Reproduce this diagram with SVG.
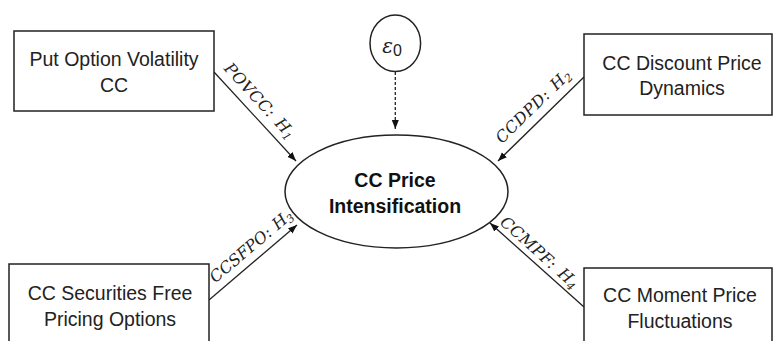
<svg xmlns="http://www.w3.org/2000/svg" width="773" height="341" viewBox="0 0 773 341">
<style>
.box{fill:#fff;stroke:#222;stroke-width:1.5}
.ell{fill:#fff;stroke:#222;stroke-width:1.5}
.t{font-family:"Liberation Sans",Arial,sans-serif;font-size:19.5px;fill:#222;text-anchor:middle}
.tb{font-family:"Liberation Sans",Arial,sans-serif;font-size:19.5px;font-weight:bold;fill:#111;text-anchor:middle}
.lab{font-family:"DejaVu Serif","Liberation Serif",serif;font-style:italic;font-size:16px;letter-spacing:0.4px;word-spacing:2px;fill:#222;text-anchor:middle}
.sub{font-size:11px}
.ln{stroke:#222;stroke-width:1.3;fill:none}
.dash{stroke:#222;stroke-width:1.3;fill:none;stroke-dasharray:3 2}
</style>
<defs>
<marker id="ah" markerUnits="userSpaceOnUse" markerWidth="10" markerHeight="8" refX="9" refY="3.5" orient="auto">
<path d="M0,0 L9,3.5 L0,7 z" fill="#111"/>
</marker>
</defs>
<rect width="773" height="341" fill="#fff"/>
<g id="connectors">
<line class="ln" x1="214" y1="72" x2="296" y2="161" marker-end="url(#ah)"/>
<line class="ln" x1="584" y1="77" x2="498" y2="161" marker-end="url(#ah)"/>
<line class="ln" x1="209" y1="300" x2="297" y2="225" marker-end="url(#ah)"/>
<line class="ln" x1="584" y1="307" x2="490" y2="223" marker-end="url(#ah)"/>
<line class="dash" x1="395.3" y1="72" x2="395.3" y2="129" marker-end="url(#ah)"/>
<text class="lab" transform="translate(256,104.5) rotate(47.3)">POVCC: H<tspan class="sub" dy="3">1</tspan></text>
<text class="lab" transform="translate(537,110) rotate(-44.3)">CCDPD: H<tspan class="sub" dy="3">2</tspan></text>
<text class="lab" transform="translate(254.5,250.2) rotate(-40.4)" style="letter-spacing:0;word-spacing:1px">CCSFPO: H<tspan class="sub" dy="3">3</tspan></text>
<text class="lab" transform="translate(536,256.5) rotate(41.8)">CCMPF: H<tspan class="sub" dy="3">4</tspan></text>
</g>
<g id="node-povcc">
<rect class="box" x="14" y="31" width="200" height="80"/>
<text class="t" x="114" y="66">Put Option Volatility</text>
<text class="t" x="114" y="92">CC</text>
</g>
<g id="node-ccdpd">
<rect class="box" x="584" y="34" width="188" height="81"/>
<text class="t" x="682" y="70">CC Discount Price</text>
<text class="t" x="682" y="95">Dynamics</text>
</g>
<g id="node-ccsfpo">
<rect class="box" x="9" y="264" width="200" height="90"/>
<text class="t" x="110" y="300">CC Securities Free</text>
<text class="t" x="110" y="326">Pricing Options</text>
</g>
<g id="node-ccmpf">
<rect class="box" x="584" y="268" width="188" height="90"/>
<text class="t" x="680" y="302">CC Moment Price</text>
<text class="t" x="680" y="328">Fluctuations</text>
</g>
<g id="node-epsilon">
<ellipse class="ell" cx="395.3" cy="43.3" rx="25.3" ry="28.3"/>
<text x="392" y="53" font-family="'DejaVu Serif','Liberation Serif',serif" font-style="italic" font-size="20" fill="#222" text-anchor="middle">ε<tspan font-style="normal" font-family="'Liberation Sans',sans-serif" font-size="16" dy="3">0</tspan></text>
</g>
<g id="node-target">
<ellipse class="ell" cx="396.5" cy="191.5" rx="111.5" ry="56.5"/>
<text class="tb" x="395" y="187">CC Price</text>
<text class="tb" x="395" y="213">Intensification</text>
</g>
</svg>
